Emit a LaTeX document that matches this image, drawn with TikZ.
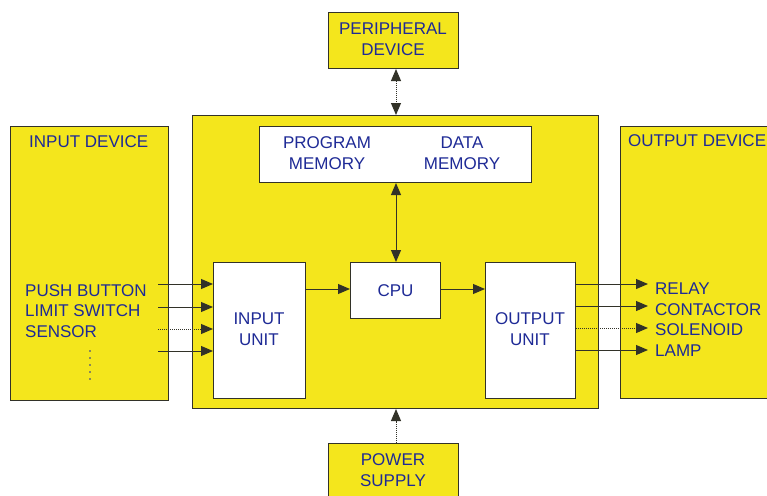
\documentclass[tikz,border=0pt]{standalone}
\usepackage{fontspec}
\setmainfont{Liberation Sans}
\usetikzlibrary{arrows.meta}
\definecolor{plcyellow}{RGB}{244,230,28}
\definecolor{txtblue}{RGB}{30,42,150}
\definecolor{edgegray}{RGB}{50,50,40}
\begin{document}
\begin{tikzpicture}[x=1pt,y=-1pt,
  blk/.style={draw=edgegray, line width=1pt, anchor=north west, inner sep=0pt},
  ybox/.style={blk, fill=plcyellow},
  wbox/.style={blk, fill=white},
  lbl/.style={text=txtblue, font=\fontsize{17}{21}\selectfont, align=center, inner sep=0pt},
  tip/.style={Triangle[length=12pt,width=10pt]},
  con/.style={draw=edgegray, line width=1pt, -{Triangle[length=12pt,width=10pt]}},
  dcon/.style={con, densely dotted},
  bicon/.style={draw=edgegray, line width=1pt, {Triangle[length=12pt,width=10pt]}-{Triangle[length=12pt,width=10pt]}},
  dotmark/.style={fill=txtblue, circle, inner sep=0pt, minimum size=1.6pt},
]
\clip (0,0) rectangle (767,495);
\fill[white] (0,0) rectangle (767,495);
% boxes
\node[ybox, minimum width=130, minimum height=56] (per) at (328,12) {};
\node[ybox, minimum width=406, minimum height=293] (main) at (192,115) {};
\node[ybox, minimum width=158, minimum height=274] (indev) at (10,126) {};
\node[ybox, minimum width=170, minimum height=272] (outdev) at (620,126) {};
\node[ybox, minimum width=130, minimum height=70] (pow) at (328,443) {};
\node[wbox, minimum width=272, minimum height=56] (mem) at (259,126) {};
\node[wbox, minimum width=90, minimum height=56] (cpu) at (350,262) {};
\node[wbox, minimum width=92, minimum height=136] (iu) at (213,262) {};
\node[wbox, minimum width=90, minimum height=136] (ou) at (485,262) {};
% texts
\node[lbl] (pertxt) at (393,39) {PERIPHERAL\\DEVICE};
\node[lbl] (powtxt) at (393,470) {POWER\\SUPPLY};
\node[lbl] (progtxt) at (327,153) {PROGRAM\\MEMORY};
\node[lbl] (datatxt) at (462,153) {DATA\\MEMORY};
\node[lbl] (cputxt) at (cpu.center) {CPU};
\node[lbl] (iutxt) at (259,329) {INPUT\\UNIT};
\node[lbl] (outxt) at (530,329) {OUTPUT\\UNIT};
\node[lbl, anchor=base west] (indevtxt) at (29,147) {INPUT DEVICE};
\node[lbl, anchor=base west] (outdevtxt) at (628,146) {OUTPUT DEVICE};
\node[lbl, anchor=base west] (pb) at (25,296) {PUSH BUTTON};
\node[lbl, anchor=base west] (ls) at (25,316.5) {LIMIT SWITCH};
\node[lbl, anchor=base west] (sen) at (25,337) {SENSOR};
\foreach \k/\yy in {1/351,2/358,3/365,4/372,5/379}
  \node[dotmark] (dot\k) at (90,\yy) {};
\node[lbl, anchor=base west] (rel) at (655,294) {RELAY};
\node[lbl, anchor=base west] (cont) at (655,315) {CONTACTOR};
\node[lbl, anchor=base west] (sol) at (655,335) {SOLENOID};
\node[lbl, anchor=base west] (lamp) at (655,356) {LAMP};
% connector anchors
\coordinate (i1) at (158,284);
\coordinate (i2) at (158,307);
\coordinate (i3) at (158,329);
\coordinate (i4) at (158,351);
\coordinate (o1) at (648,284);
\coordinate (o2) at (648,306);
\coordinate (o3) at (648,328);
\coordinate (o4) at (648,350);
% connectors
\draw[con] (i1) -- (i1 -| iu.west);
\draw[con] (i2) -- (i2 -| iu.west);
\draw[dcon] (i3) -- (i3 -| iu.west);
\draw[con] (i4) -- (i4 -| iu.west);
\draw[con] (o1 -| ou.east) -- (o1);
\draw[con] (o2 -| ou.east) -- (o2);
\draw[dcon] (o3 -| ou.east) -- (o3);
\draw[con] (o4 -| ou.east) -- (o4);
\draw[con] (iu.east |- 0,289) -- (cpu.west |- 0,289);
\draw[con] (cpu.east |- 0,289) -- (ou.west |- 0,289);
\draw[bicon] (mem.south -| 396,0) -- (cpu.north -| 396,0);
\draw[bicon, densely dotted] (per.south -| 396,0) -- (main.north -| 396,0);
\draw[dcon] (pow.north -| 396,0) -- (main.south -| 396,0);
\end{tikzpicture}
\end{document}
